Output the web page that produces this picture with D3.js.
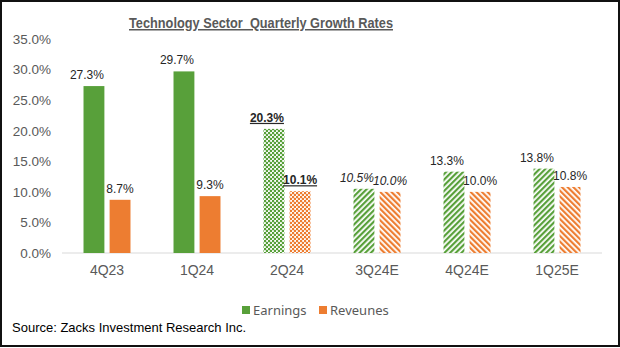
<!DOCTYPE html>
<html><head><meta charset="utf-8">
<script src="https://cdn.jsdelivr.net/npm/d3@7"></script>
<style>body{margin:0;background:#fff}svg{display:block}
.ar{font-family:"Liberation Sans",Arial,Helvetica,sans-serif}
.lg{font-family:"Noto Sans","Open Sans",sans-serif}
</style>
</head><body>
<svg id="c" width="620" height="348"></svg>
<script>
const title = "Technology Sector  Quarterly Growth Rates";
const categories = ["4Q23","1Q24","2Q24","3Q24E","4Q24E","1Q25E"];
const seriesNames = ["Earnings","Reveunes"];
const earnings = [27.3, 29.7, 20.3, 10.5, 13.3, 13.8];
const revenues = [8.7, 9.3, 10.1, 10.0, 10.0, 10.8];
const yTicks = [0,5,10,15,20,25,30,35];
const source = "Source: Zacks Investment Research Inc.";
// category kinds: actual, partial (in progress), estimate
const kinds = ["actual","actual","partial","estimate","estimate","estimate"];

const green = "#58a03a", orange = "#ed7d31", gray = "#595959";
const svg = d3.select("#c");
const defs = svg.append("defs");

function dots(id, color){
  const p = defs.append("pattern").attr("id",id).attr("patternUnits","userSpaceOnUse")
    .attr("width",4).attr("height",4);
  p.append("rect").attr("width",4).attr("height",4).attr("fill","#fff");
  p.append("circle").attr("cx",1).attr("cy",1).attr("r",1.3).attr("fill",color);
  p.append("circle").attr("cx",3).attr("cy",3).attr("r",1.3).attr("fill",color);
}
function stripes(id, color, angle){
  const p = defs.append("pattern").attr("id",id).attr("patternUnits","userSpaceOnUse")
    .attr("width",4).attr("height",4).attr("patternTransform",`rotate(${angle})`);
  p.append("rect").attr("width",4).attr("height",4).attr("fill","#fff");
  p.append("rect").attr("width",2.2).attr("height",4).attr("fill",color);
}
dots("dotG", green); dots("dotO", orange);
stripes("strG", green, 45); stripes("strO", orange, -45);

const x0 = d3.scaleBand().domain(categories).range([62,602]).paddingInner(0.478).paddingOuter(0.239);
const x1 = d3.scaleBand().domain(seriesNames).range([0,x0.bandwidth()]).paddingInner(0.2);
const y = d3.scaleLinear().domain([0,35]).range([253,39]);

// frame
svg.append("rect").attr("x",1).attr("y",1).attr("width",618).attr("height",345)
  .attr("fill","none").attr("stroke","#111").attr("stroke-width",2);

// title
svg.append("text").attr("class","ar").attr("x",129).attr("y",28)
  .style("white-space","pre").attr("font-size",15)
  .attr("textLength",264).attr("lengthAdjust","spacingAndGlyphs")
  .attr("font-weight","bold").attr("fill",gray).attr("text-decoration","underline").text(title);

// y axis
const yAxis = d3.axisLeft(y).tickValues(yTicks).tickSize(0).tickPadding(0)
  .tickFormat(d => d3.format(".1f")(d) + "%");
const ya = svg.append("g").attr("transform","translate(51,0)").call(yAxis)
  .attr("font-family",null);
ya.select(".domain").remove();
ya.selectAll("text").attr("class","ar").attr("font-size",13.5).attr("fill",gray);

// baseline
svg.append("line").attr("x1",62).attr("x2",602).attr("y1",y(0)).attr("y2",y(0))
  .attr("stroke","#d9d9d9").attr("stroke-width",1);

// x axis labels
const xAxis = d3.axisBottom(x0).tickSize(0).tickPadding(12);
const xa = svg.append("g").attr("transform",`translate(0,${y(0)})`).call(xAxis)
  .attr("font-family",null);
xa.select(".domain").remove();
xa.selectAll("text").attr("class","ar").attr("font-size",14).attr("fill",gray);

const rows = categories.map((c,i)=>({c, kind:kinds[i], vals:[earnings[i], revenues[i]]}));
const fillFor = (kind, s) => {
  if(kind==="actual") return s===0 ? green : orange;
  if(kind==="partial") return s===0 ? "url(#dotG)" : "url(#dotO)";
  return s===0 ? "url(#strG)" : "url(#strO)";
};
const g = svg.append("g");
rows.forEach(r=>{
  r.vals.forEach((v,s)=>{
    const bx = x0(r.c) + x1(seriesNames[s]);
    g.append("rect").attr("x",bx).attr("y",y(v)).attr("width",x1.bandwidth())
      .attr("height",y(0)-y(v)).attr("fill",fillFor(r.kind,s));
    const lbl = g.append("text").attr("class","ar").attr("x", bx + x1.bandwidth()/2 + (s===0?-7:0))
      .attr("y", y(v)-7).attr("text-anchor","middle").attr("font-size",12)
      .attr("fill","#262626")
      .text(d3.format(".1f")(v)+"%");
    if(r.kind==="partial") lbl.attr("font-weight","bold").attr("text-decoration","underline");
    if(r.kind==="estimate" && r.c===categories[3]) lbl.attr("font-style","italic");
  });
});

// legend
const leg = svg.append("g").attr("class","lg").attr("font-size",13).attr("fill",gray);
const legX = [242, 319];
seriesNames.forEach((n,i)=>{
  leg.append("rect").attr("x",legX[i]).attr("y",306).attr("width",8).attr("height",8).attr("fill",i===0?green:orange);
  leg.append("text").attr("x",legX[i]+11).attr("y",314.5).text(n);
});

// source
svg.append("text").attr("class","ar").attr("x",12).attr("y",332)
  .attr("font-size",13).attr("fill","#000").text(source);
</script>
</body></html>
